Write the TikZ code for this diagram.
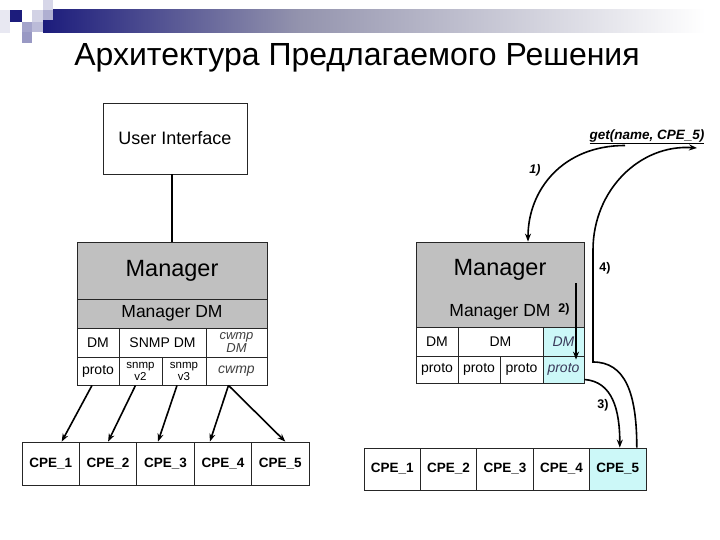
\documentclass[tikz,border=0pt]{standalone}
\usepackage{fontspec}
\setmainfont{Liberation Sans}
\usetikzlibrary{arrows.meta}
\definecolor{mgrgray}{HTML}{C0C0C0}
\definecolor{selcyan}{HTML}{CCF8F8}
\definecolor{navy}{HTML}{1C1C7C}
\definecolor{seltext}{HTML}{3A3A5A}
\tikzset{
  box/.style={draw=black!85, line width=0.8pt, inner sep=0pt},
  cell/.style={box, minimum height=29, font=\fontsize{14}{15}\selectfont},
  cpe/.style={box, minimum width=57.4, minimum height=43, font=\fontsize{13.5}{14}\selectfont\bfseries},
  arr/.style={line width=1.6pt, -{Stealth[length=8pt,width=6pt]}},
  step lbl/.style={font=\fontsize{12.5}{13}\selectfont\bfseries, inner sep=0pt}
}
\begin{document}
\begin{tikzpicture}[x=1pt,y=-1pt]
\useasboundingbox (0,0) rectangle (720,540);
% header decoration
\shade[left color=navy, right color=black!40!navy!45] (43,10) rectangle (300,33);
\shade[left color=black!40!navy!45, right color=white] (300,10) rectangle (705,33);
\fill[navy!10] (0,10) rectangle (10,33);
\fill[navy] (10,10) rectangle (22,22);
\fill[navy!40] (22,22) rectangle (32,32);
\fill[navy!45] (22,32) rectangle (32,43);
\fill[navy!20] (32,10) rectangle (43,22);
\fill[navy!30] (32,22) rectangle (43,32);
\fill[navy!18] (43,0) rectangle (53,10);
\fill[navy!35] (43,10) rectangle (53,20);
\node[anchor=base, font=\fontsize{32}{34}\selectfont] (title) at (357,66) {Архитектура Предлагаемого Решения};

% left: direct protocol modules
\node[box, minimum width=144, minimum height=71, font=\fontsize{18}{19}\selectfont] (uiL) at (175,138.5) {User Interface};
\node[box, fill=mgrgray, minimum width=190, minimum height=57, font=\fontsize{23.5}{24}\selectfont] (mgrL) at (172,270.5) {Manager};
\node[box, fill=mgrgray, minimum width=190, minimum height=29, font=\fontsize{17.5}{18}\selectfont] (mdmL) at (172,313.5) {Manager DM};
\node[cell, minimum width=42] (dmL1) at (98,342.5) {DM};
\node[cell, minimum width=87] (dmL2) at (162.5,342.5) {SNMP DM};
\node[cell, minimum width=61, align=center, text=black!75, font=\fontsize{13}{13}\selectfont\itshape] (dmL3) at (236.5,342.5) {cwmp\\DM};
\node[cell, minimum width=42, minimum height=28] (protoL) at (98,371) {proto};
\node[cell, minimum width=43, minimum height=28, align=center, font=\fontsize{11.5}{12}\selectfont] (snmpL2) at (140.5,371) {snmp\\v2};
\node[cell, minimum width=44, minimum height=28, align=center, font=\fontsize{11.5}{12}\selectfont] (snmpL3) at (184,371) {snmp\\v3};
\node[cell, minimum width=61, minimum height=28, text=black!75, font=\fontsize{14}{15}\selectfont\itshape] (cwmpL) at (236.5,371) {cwmp};
\foreach \i in {1,...,5}
  \node[cpe] (cpeL\i) at ({22+57.4*(\i-0.5)},463.5) {CPE\_\i};
\draw[line width=1.2pt] (uiL.south -| mgrL.north) -- (mgrL.north);
\draw[arr] ([xshift=-6pt]protoL.south) -- ([xshift=11pt]cpeL1.north);
\draw[arr] ([xshift=-5pt]snmpL2.south) -- (cpeL2.north);
\draw[arr] ([xshift=-7pt]snmpL3.south) -- ([xshift=-7.5pt]cpeL3.north);
\draw[arr] ([xshift=-8pt]cwmpL.south) -- ([xshift=-13pt]cpeL4.north);
\draw[arr] ([xshift=-8pt]cwmpL.south) -- ([xshift=5pt]cpeL5.north);

% right: request through the manager
\node[box, fill=mgrgray, minimum width=168, minimum height=85] (mgrR) at (500,284.5) {};
\node[font=\fontsize{23.5}{24}\selectfont] (mgrRt) at (500,270) {Manager};
\node[font=\fontsize{17.5}{18}\selectfont] (mdmR) at (500,312) {Manager DM};
\node[cell, minimum width=42] (dmR1) at (437,341.5) {DM};
\node[cell, minimum width=85] (dmR2) at (500.5,341.5) {DM};
\node[cell, minimum width=41, fill=selcyan, text=seltext, font=\fontsize{14}{15}\selectfont\itshape] (dmR3) at (563.5,341.5) {DM};
\node[cell, minimum width=42, minimum height=27] (protoR1) at (437,369.5) {proto};
\node[cell, minimum width=42, minimum height=27] (protoR2) at (479,369.5) {proto};
\node[cell, minimum width=43, minimum height=27] (protoR3) at (521.5,369.5) {proto};
\node[cell, minimum width=41, minimum height=27, fill=selcyan, text=seltext, font=\fontsize{14}{15}\selectfont\itshape] (protoR4) at (563.5,369.5) {proto};
\foreach \i in {1,...,5}
  \node[cpe, minimum width=56.4, minimum height=42] (cpeR\i) at ({364+56.4*(\i-0.5)},469) {CPE\_\i};
\node[cpe, minimum width=56.4, minimum height=42, fill=selcyan] (cpeR5) at ({364+56.4*4.5},469) {CPE\_5};
\node[font=\fontsize{13.5}{14}\selectfont\bfseries\itshape, inner sep=1pt] (get) at (647,137) {\underline{get(name, CPE\_5)}};
\coordinate (c2) at (576,283);
\coordinate (c4a) at (593,362);
\coordinate (c4b) at (593,250);
\coordinate (c4e) at (697,148);
\draw[arr] ([xshift=-22pt]get.south) .. controls +(-62,0) and +(0,-52) .. ([xshift=28pt]mgrR.north);
\draw[arr] (c2) -- ([yshift=-4pt]c2 |- protoR4.north);
\draw[arr] ([yshift=-10pt]protoR4.east) .. controls +(28,2) and +(0,-38) .. ([xshift=2pt]cpeR5.north);
\draw[arr] ([xshift=19pt]cpeR5.north) .. controls +(0,-55) and +(32,0) .. (c4a) -- (c4b)
  .. controls +(0,-60) and +(-57,-4) .. (c4e);
\node[step lbl, font=\fontsize{12.5}{13}\selectfont\bfseries\itshape] (lbl1) at (535,170) {1)};
\node[step lbl] (lbl2) at (564,309) {2)};
\node[step lbl] (lbl3) at (603,405) {3)};
\node[step lbl] (lbl4) at (605,268) {4)};
\end{tikzpicture}
\end{document}
